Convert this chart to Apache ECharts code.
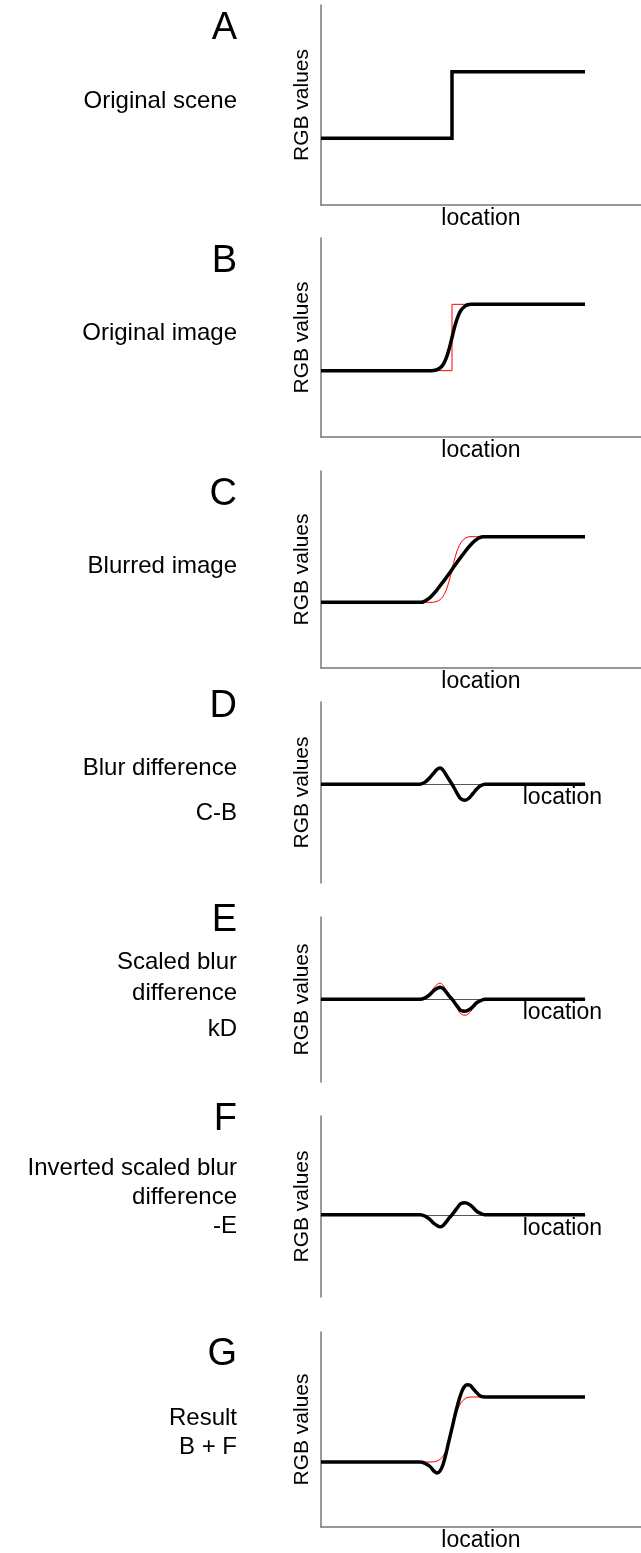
<!DOCTYPE html>
<html><head><meta charset="utf-8">
<script src="https://cdn.jsdelivr.net/npm/echarts@6/dist/echarts.min.js"></script>
<style>html,body{margin:0;padding:0;background:#fff}#c{width:641px;height:1553px}</style>
</head><body><div id="c"></div>
<script>
// ---------- text ----------
const panelLetters = ['A', 'B', 'C', 'D', 'E', 'F', 'G'];
const panelCaptions = [
  ['Original scene'],
  ['Original image'],
  ['Blurred image'],
  ['Blur difference', 'C-B'],
  ['Scaled blur', 'difference', 'kD'],
  ['Inverted scaled blur', 'difference', '-E'],
  ['Result', 'B + F']
];
const yAxisTitle = 'RGB values';
const xAxisTitle = 'location';

// ---------- data: [location, RGB value] ----------
const sceneA = [[0,100],[131,100],[131,200],[264,200]];
const imageB = [[0,100],[110,100],[115,101],[119,104],[122,109],[125,118],[128,132],[131,150],[134,168],[137,182],[140,191],[143,196],[146,199],[150,200],[264,200]];
const blurredC = [[0,100],[100,100],[104,102],[108,106],[112,112],[116,119],[120,127],[124,135],[128,143.5],[131,150],[134,156.5],[138,165],[142,173],[146,181],[150,188],[154,194],[158,198],[162,200],[264,200]];
const blurDiffD = [[0,0],[99,0],[104,3],[109,10],[113,17],[116,22],[119,24],[122,21],[125,14],[128,7],[131,0],[134,-8],[137,-16],[140,-22],[144,-24],[148,-21],[152,-14],[156,-7],[160,-2],[164,0],[264,0]];
const scaledE = [[0,0],[99,0],[104,2],[109,7],[113,13],[116,16],[119,18],[122,16],[125,11],[128,5],[131,0],[134,-6],[137,-12],[140,-17],[144,-18],[148,-16],[152,-11],[156,-5],[160,-2],[164,0],[264,0]];
const invertedF = [[0,0],[99,0],[104,-2],[109,-7],[113,-13],[116,-16],[119,-18],[122,-16],[125,-11],[128,-5],[131,0],[134,6],[137,12],[140,17],[144,18],[148,16],[152,11],[156,5],[160,2],[164,0],[264,0]];
const resultG = [[0,100],[99,100],[104,98],[109,93],[113,86],[116,83],[119,86],[122,96],[125,113],[128,133],[131,152],[134,172],[137,190],[140,205],[143,215],[146,219],[149,218],[152,213],[156,206],[160,201],[164,200],[264,200]];

// ---------- layout ----------
const gridTop = [5, 238, 471, 702, 917, 1116, 1332];
const gridHeight = [200, 199, 197, 181, 165, 181, 197];
const yMin = [0, 0, 0, -148, -124, -123, 0];
const yMax = [300, 300, 300, 123, 123, 148, 300];
const hasBottomAxis = [true, true, true, false, false, false, true];
const letterY = [29, 262, 495, 707, 921, 1120, 1355];
const captionY = [[101], [333], [566], [768, 813], [962, 993, 1029], [1168, 1197, 1226], [1418, 1447]];

const FONT = "'Liberation Sans', Arial, Helvetica, sans-serif";
const redSeries = [null, sceneA, imageB, null, blurDiffD, null, imageB];
const blackSeries = [sceneA, imageB, blurredC, blurDiffD, scaledE, invertedF, resultG];
const redSmooth = [false, false, 0.4, false, 0.4, false, 0.4];

const grids = [], xAxes = [], yAxes = [], series = [], graphics = [];
for (let i = 0; i < 7; i++) {
  grids.push({ left: 321, right: hasBottomAxis[i] ? 0 : 56, top: gridTop[i], height: gridHeight[i] });
  const axisLineStyle = { color: '#777', width: 1.5 };
  if (hasBottomAxis[i]) {
    xAxes.push({ type: 'value', gridIndex: i, min: 0, max: 320, splitLine: { show: false },
      axisTick: { show: false }, axisLabel: { show: false },
      axisLine: { show: true, onZero: false, lineStyle: axisLineStyle },
      name: xAxisTitle, nameLocation: 'middle', nameGap: 2,
      nameTextStyle: { fontSize: 23, color: '#000', fontFamily: FONT, verticalAlign: 'top' } });
  } else {
    xAxes.push({ type: 'value', gridIndex: i, min: 0, max: 264, splitLine: { show: false },
      axisTick: { show: false }, axisLabel: { show: false },
      axisLine: { show: true, onZero: true, lineStyle: { color: '#555', width: 1 } },
      name: xAxisTitle, nameLocation: 'end', nameGap: 17,
      nameTextStyle: { fontSize: 23, color: '#000', fontFamily: FONT, align: 'right', verticalAlign: 'top', padding: [2, 0, 0, 0] } });
  }
  yAxes.push({ type: 'value', gridIndex: i, min: yMin[i], max: yMax[i], splitLine: { show: false },
    axisTick: { show: false }, axisLabel: { show: false },
    axisLine: { show: true, onZero: false, lineStyle: axisLineStyle },
    name: yAxisTitle, nameLocation: 'middle', nameGap: 8, nameRotate: 90,
    nameTextStyle: { fontSize: 21, color: '#000', fontFamily: FONT } });
  if (redSeries[i]) {
    series.push({ type: 'line', xAxisIndex: i, yAxisIndex: i, data: redSeries[i], showSymbol: false,
      smooth: redSmooth[i],
      lineStyle: { color: '#ff0000', width: 1 }, z: 2 });
  }
  series.push({ type: 'line', xAxisIndex: i, yAxisIndex: i, data: blackSeries[i], showSymbol: false,
    smooth: i === 0 ? false : 0.4,
    lineStyle: { color: '#000', width: 3.5, join: 'miter' }, z: 3 });

  graphics.push({ type: 'text', x: 237, y: letterY[i],
    style: { text: panelLetters[i], font: '38px ' + FONT, fill: '#000', textAlign: 'right', textVerticalAlign: 'middle' } });
  panelCaptions[i].forEach((t, j) => {
    graphics.push({ type: 'text', x: 237, y: captionY[i][j],
      style: { text: t, font: '24px ' + FONT, fill: '#000', textAlign: 'right', textVerticalAlign: 'middle' } });
  });
}

const chart = echarts.init(document.getElementById('c'), null, { renderer: 'canvas' });
chart.setOption({
  animation: false,
  backgroundColor: '#fff',
  grid: grids, xAxis: xAxes, yAxis: yAxes, series: series,
  graphic: graphics
});
</script></body></html>
